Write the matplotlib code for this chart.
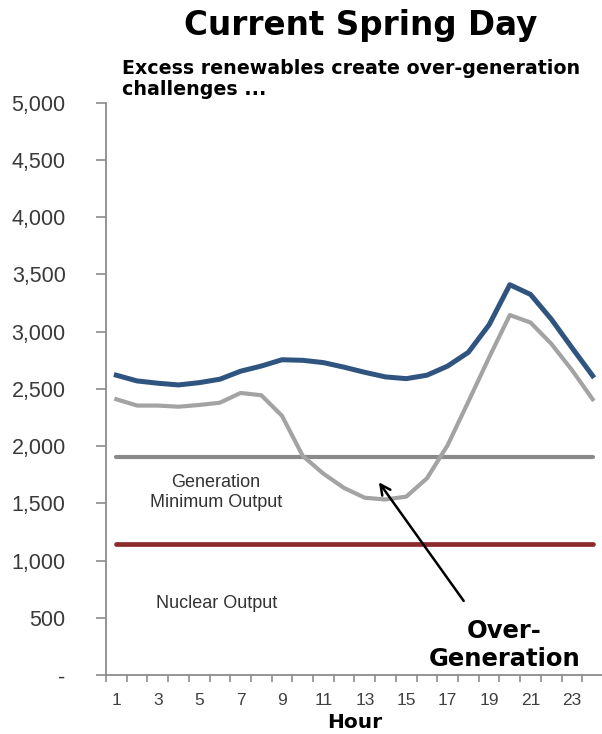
import numpy as np
import matplotlib
matplotlib.use('Agg')
import matplotlib.pyplot as plt
from matplotlib.ticker import FuncFormatter

# hourly values (MW)
hours = np.arange(1, 25)
load = [2620, 2570, 2550, 2535, 2555, 2585, 2655, 2700, 2755, 2750, 2730, 2690,
        2645, 2605, 2590, 2620, 2700, 2820, 3060, 3410, 3325, 3110, 2860, 2615]
net_load = [2410, 2355, 2355, 2345, 2360, 2380, 2465, 2445, 2265, 1915, 1760, 1635,
            1550, 1535, 1560, 1720, 2010, 2390, 2775, 3145, 3080, 2895, 2665, 2410]
gen_min = [1910] * 24
nuclear = [1150] * 24
ytick_vals = list(range(0, 5001, 500))
xlabel_hours = list(range(1, 24, 2))

W, H = 602, 734
fig = plt.figure(figsize=(W / 100, H / 100), dpi=100)
ax = fig.add_axes([106 / W, (H - 675.3) / H, 497 / W, 572.7 / H])

ax.plot(hours, nuclear, color='#8b2b2e', lw=3.4, solid_capstyle='round')
ax.plot(hours, gen_min, color='#8a8a8a', lw=3.0, solid_capstyle='round')
ax.plot(hours, net_load, color='#a3a3a3', lw=3.0, solid_joinstyle='round')
ax.plot(hours, load, color='#2f5480', lw=3.6, solid_joinstyle='round')

ax.set_xlim(0.5, 24.5)
ax.set_ylim(0, 5000)
for s in ['top', 'right']:
    ax.spines[s].set_visible(False)
for s in ['left', 'bottom']:
    ax.spines[s].set_color('#8c8c8c')
    ax.spines[s].set_linewidth(1.3)

ax.set_yticks(ytick_vals)
ax.yaxis.set_major_formatter(FuncFormatter(lambda v, p: '-' if v == 0 else f'{int(v):,}'))
ax.tick_params(axis='y', length=7, width=1.2, color='#8c8c8c', pad=22,
               labelsize=15.5, labelcolor='#3a3a3a')
for lab in ax.get_yticklabels():
    lab.set_fontfamily('Liberation Sans')

# category-style x axis: ticks between hours, labels on odd hours
ax.set_xticks(np.arange(0.5, 25, 1))
ax.set_xticklabels([])
ax.tick_params(axis='x', which='major', length=5, width=1.2, color='#8c8c8c')
ax.set_xticks(xlabel_hours, minor=True)
ax.set_xticklabels([str(h) for h in xlabel_hours], minor=True)
ax.tick_params(axis='x', which='minor', length=0, pad=13, labelsize=12.5,
               labelcolor='#404040')
for lab in ax.get_xticklabels(minor=True):
    lab.set_fontfamily('Liberation Sans')

ax.set_xlabel('Hour', fontsize=14.5, fontweight='bold', labelpad=3)

ax.text(5.82, 1595, 'Generation\nMinimum Output', ha='center', va='center',
        fontsize=13, family='Liberation Sans', color='#333333', linespacing=1.25)
ax.text(5.82, 630, 'Nuclear Output', ha='center', va='center',
        fontsize=13, family='Liberation Sans', color='#333333')

ax.annotate('', xy=(13.6, 1705), xytext=(17.85, 630),
            arrowprops=dict(arrowstyle='->', color='black', lw=1.8,
                            mutation_scale=18))
ax.text(19.75, 262, 'Over-\nGeneration', ha='center', va='center',
        fontsize=17.5, fontweight='bold', linespacing=1.2)

fig.text(361 / W, 1 - 26 / H, 'Current Spring Day', ha='center', va='center',
         fontsize=23.5, fontweight='bold')
fig.text(122 / W, 1 - 79 / H, 'Excess renewables create over-generation\nchallenges ...',
         ha='left', va='center', fontsize=13.7, fontweight='bold', linespacing=1.15)

fig.savefig('out.png', dpi=100)
